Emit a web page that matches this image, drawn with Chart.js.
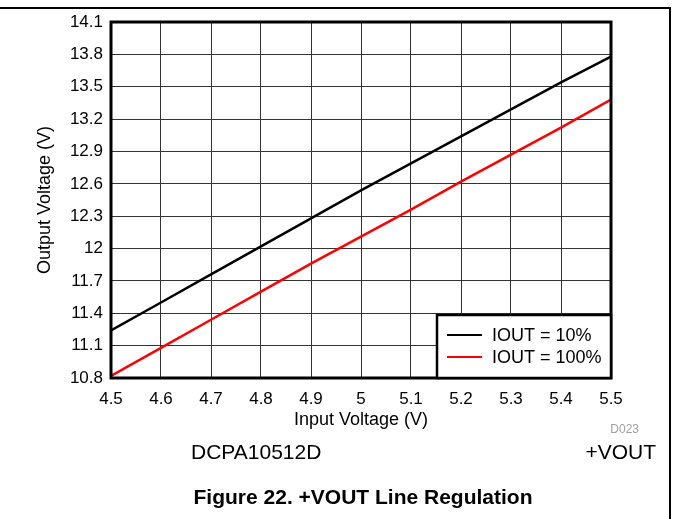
<!DOCTYPE html>
<html>
<head>
<meta charset="utf-8">
<script src="https://cdn.jsdelivr.net/npm/chart.js@4/dist/chart.umd.min.js"></script>
<style>
  body { margin: 0; background: #fff; font-family: "Liberation Sans", Arial, sans-serif; }
  #wrap { position: relative; width: 673px; height: 519px; overflow: hidden; }
  #myChart { position: absolute; left: 0; top: 0; }
  .frame { position: absolute; left: 0; top: 7px; width: 669px; height: 520px;
           border-top: 2px solid #000; border-right: 2px solid #000; }
  .txt { position: absolute; line-height: 1; white-space: nowrap; color: #000; }
</style>
</head>
<body>
<div id="wrap">
  <canvas id="myChart" width="673" height="519"></canvas>
  <div class="frame"></div>
  <div class="txt" style="right:34px; top:423px; font-size:12px; color:#a0a0a0;">D023</div>
  <div class="txt" style="left:191px; top:441px; font-size:21px;">DCPA10512D</div>
  <div class="txt" style="right:17px; top:441px; font-size:21px;">+VOUT</div>
  <div class="txt" style="left:363px; top:486px; font-size:21px; font-weight:bold; transform:translateX(-50%);">Figure 22. +VOUT Line Regulation</div>
</div>
<script>
document.addEventListener("DOMContentLoaded", function () {
  // Data
  const inputVoltage = [4.5, 4.6, 4.7, 4.8, 4.9, 5.0, 5.1, 5.2, 5.3, 5.4, 5.5];
  const iout10 = [11.24, 11.50, 11.76, 12.02, 12.28, 12.54, 12.79, 13.04, 13.29, 13.54, 13.78];
  const iout100 = [10.82, 11.08, 11.34, 11.60, 11.86, 12.11, 12.36, 12.62, 12.87, 13.12, 13.38];
  const xTicks = [4.5, 4.6, 4.7, 4.8, 4.9, 5, 5.1, 5.2, 5.3, 5.4, 5.5];
  const yTicks = [10.8, 11.1, 11.4, 11.7, 12, 12.3, 12.6, 12.9, 13.2, 13.5, 13.8, 14.1];
  const seriesLabels = ['IOUT = 10%', 'IOUT = 100%'];

  const FONT = "'Liberation Sans', Arial, sans-serif";

  function toPoints(ys) {
    return inputVoltage.map(function (x, i) { return { x: x, y: ys[i] }; });
  }

  // thick frame round the plot
  const plotFrame = {
    id: 'plotFrame',
    afterDatasetsDraw(chart) {
      const a = chart.chartArea;
      const ctx = chart.ctx;
      ctx.save();
      ctx.strokeStyle = '#000';
      ctx.lineWidth = 3;
      ctx.strokeRect(a.left, a.top, a.right - a.left, a.bottom - a.top);
      ctx.restore();
    }
  };

  // boxed legend in the bottom right corner of the plot
  const boxLegend = {
    id: 'boxLegend',
    afterDraw(chart) {
      const a = chart.chartArea;
      const ctx = chart.ctx;
      const w = 174, h = 63;
      const x0 = a.right - w, y0 = a.bottom - h;
      ctx.save();
      ctx.fillStyle = '#fff';
      ctx.fillRect(x0, y0, w, h);
      ctx.strokeStyle = '#000';
      ctx.lineWidth = 2.5;
      ctx.strokeRect(x0, y0, w, h);
      chart.data.datasets.forEach(function (ds, i) {
        const y = y0 + 20 + i * 22;
        ctx.strokeStyle = ds.borderColor;
        ctx.lineWidth = 2;
        ctx.beginPath();
        ctx.moveTo(x0 + 10, y);
        ctx.lineTo(x0 + 45, y);
        ctx.stroke();
        ctx.fillStyle = '#000';
        ctx.font = '18px ' + FONT;
        ctx.textBaseline = 'middle';
        ctx.textAlign = 'left';
        ctx.fillText(ds.label, x0 + 55, y + 1);
      });
      ctx.restore();
    }
  };

  const lineData = {
    datasets: [{
      label: seriesLabels[0],
      data: toPoints(iout10),
      borderColor: '#000000',
      borderWidth: 2.5,
      pointRadius: 0,
      fill: false
    },
    {
      label: seriesLabels[1],
      data: toPoints(iout100),
      borderColor: '#ff0000',
      borderWidth: 2.5,
      pointRadius: 0,
      fill: false
    }]
  };

  const lineConfig = {
    type: 'line',
    data: lineData,
    options: {
      responsive: false,
      animation: false,
      devicePixelRatio: 1,
      layout: { padding: { left: 34, top: 22, right: 62, bottom: 88 } },
      plugins: {
        legend: { display: false },
        tooltip: { enabled: false }
      },
      scales: {
        x: {
          type: 'linear',
          min: 4.5,
          max: 5.5,
          afterBuildTicks: function (s) { s.ticks = xTicks.map(function (v) { return { value: v }; }); },
          afterFit: function (s) { s.height = 53; },
          ticks: {
            color: '#000',
            padding: 11,
            font: { family: FONT, size: 17 },
            callback: function (v) { return String(v); }
          },
          grid: { color: '#333', lineWidth: 1, drawTicks: false },
          border: { display: false },
          title: {
            display: true,
            text: 'Input Voltage (V)',
            color: '#000',
            padding: 0,
            font: { family: FONT, size: 18 }
          }
        },
        y: {
          type: 'linear',
          min: 10.8,
          max: 14.1,
          afterBuildTicks: function (s) { s.ticks = yTicks.map(function (v) { return { value: v }; }); },
          afterFit: function (s) { s.width = 77; },
          ticks: {
            color: '#000',
            padding: 8,
            font: { family: FONT, size: 17 },
            callback: function (v) { return String(v); }
          },
          grid: { color: '#333', lineWidth: 1, drawTicks: false },
          border: { display: false },
          title: {
            display: true,
            text: 'Output Voltage (V)',
            color: '#000',
            padding: 0,
            font: { family: FONT, size: 18 }
          }
        }
      }
    },
    plugins: [plotFrame, boxLegend]
  };

  var lineCtx = document.getElementById('myChart').getContext('2d');
  var myLineChart = new Chart(lineCtx, lineConfig);
});
</script>
</body>
</html>
